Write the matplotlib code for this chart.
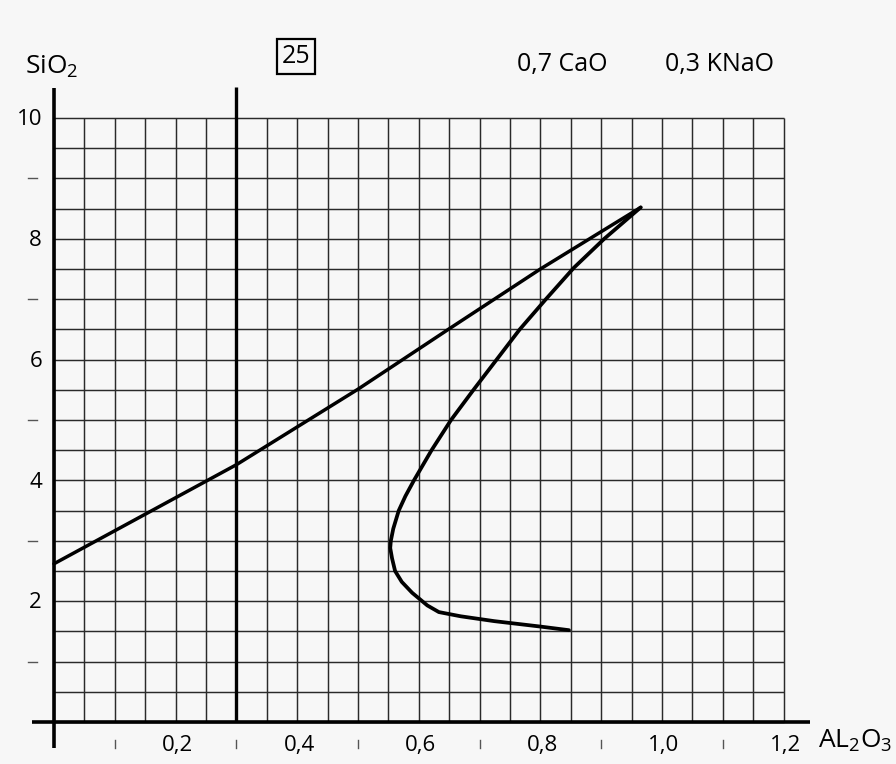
import numpy as np
import matplotlib.pyplot as plt

plt.rcParams['font.family'] = ['Open Sans', 'DejaVu Sans']
plt.rcParams['mathtext.fontset'] = 'custom'
plt.rcParams['mathtext.rm'] = 'Open Sans'

# gently curved line from the SiO2 axis up to the apex
line_x = [0.0, 0.3, 0.5, 0.65, 0.8, 0.965]
line_y = [2.62, 4.26, 5.51, 6.51, 7.5, 8.52]

# bent curve from the apex down to the lower tail
curve_x = [0.965, 0.905, 0.855, 0.809, 0.766, 0.728, 0.69, 0.653, 0.621, 0.592,
           0.578, 0.567, 0.558, 0.554, 0.553, 0.556, 0.561, 0.572, 0.589, 0.614,
           0.633, 0.669, 0.724, 0.80, 0.847]
curve_y = [8.52, 8.0, 7.52, 7.0, 6.5, 6.0, 5.5, 5.0, 4.5, 4.0,
           3.74, 3.5, 3.2, 3.0, 2.88, 2.71, 2.5, 2.32, 2.14, 1.93,
           1.82, 1.75, 1.67, 1.58, 1.52]

x_ticks = [0.2, 0.4, 0.6, 0.8, 1.0, 1.2]
x_labels = ['0,2', '0,4', '0,6', '0,8', '1,0', '1,2']
x_minor = [0.1, 0.3, 0.5, 0.7, 0.9, 1.1]
y_ticks = [2, 4, 6, 8, 10]
y_labels = ['2', '4', '6', '8', '10']
y_minor = [1, 3, 5, 7, 9]

fig = plt.figure(figsize=(8.96, 7.64), dpi=100)
fig.patch.set_facecolor('#f7f7f7')
ax = fig.add_axes([0, 0, 1, 1])
ax.set_facecolor('#f7f7f7')
ax.set_xlim(-54 / 608, (896 - 54) / 608)
ax.set_ylim(-(764 - 722) / 60.4, 722 / 60.4)
ax.axis('off')

# paper grid
gx = np.arange(0, 1.2001, 0.05)
gy = np.arange(0, 10.001, 0.5)
ax.vlines(gx, 0, 10, color='#2a2a2a', lw=1.05)
ax.hlines(gy, 0, 1.2, color='#2a2a2a', lw=1.05)

# axes and the 0.3 marker line
ax.plot([-0.036, 1.243], [0, 0], color='black', lw=2.6, solid_capstyle='butt')
ax.plot([0, 0], [-0.43, 10.5], color='black', lw=2.6, solid_capstyle='butt')
ax.plot([0.3, 0.3], [0, 10.52], color='black', lw=2.4, solid_capstyle='butt')

ax.plot(line_x, line_y, color='black', lw=2.5, solid_capstyle='round',
        solid_joinstyle='round')
ax.plot(curve_x, curve_y, color='black', lw=2.7, solid_capstyle='round',
        solid_joinstyle='round')

for xv, lab in zip(x_ticks, x_labels):
    ax.text(xv + 0.003, -0.48, lab, ha='center', va='baseline', fontsize=16)
for xv in x_minor:
    ax.plot([xv, xv], [-0.30, -0.43], color='#555555', lw=1.0)
for yv, lab in zip(y_ticks, y_labels):
    ax.text(-0.0197, yv - 0.12, lab, ha='right', va='baseline', fontsize=16)
for yv in y_minor:
    ax.plot([-0.043, -0.028], [yv, yv], color='#555555', lw=1.0)

ax.text(-0.0477, 10.73, r'SiO$_\mathrm{2}$', ha='left', va='baseline', fontsize=19)
ax.text(1.257, -0.43, r'AL$_\mathrm{2}$O$_\mathrm{3}$', ha='left', va='baseline', fontsize=19)
ax.text(0.398, 10.91, '25', ha='center', va='baseline', fontsize=18,
        bbox=dict(boxstyle='square,pad=0.2', fc='none', ec='black', lw=1.6))
ax.text(0.7615, 10.78, '0,7 CaO', ha='left', va='baseline', fontsize=18)
ax.text(1.005, 10.78, '0,3 KNaO', ha='left', va='baseline', fontsize=18)

fig.savefig('out.png', dpi=100, facecolor=fig.get_facecolor())
